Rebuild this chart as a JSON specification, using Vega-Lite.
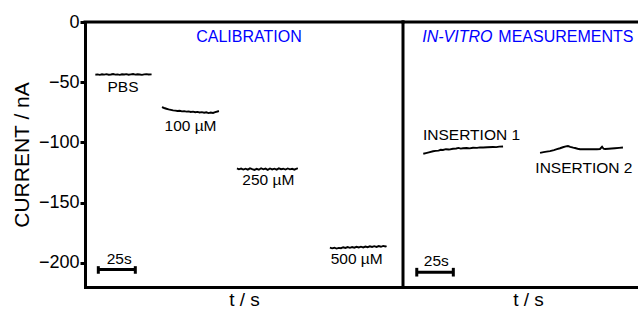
{
  "$schema": "https://vega.github.io/schema/vega-lite/v6.json",
  "padding": {"left": 11, "top": 13, "right": 0, "bottom": 0},
  "spacing": 0,
  "bounds": "flush",
  "config": {
    "view": {"stroke": null},
    "font": "Liberation Sans",
    "text": {"font": "Liberation Sans"},
    "axis": {"grid": false, "titleFontWeight": "normal", "titleColor": "black", "labelColor": "black", "domainColor": "black", "tickColor": "black"}
  },
  "datasets": {
    "traces": [
      {"panel": "L", "seg": "PBS", "t": 7.0, "current": -43.8},
      {"panel": "L", "seg": "PBS", "t": 8.5, "current": -43.5},
      {"panel": "L", "seg": "PBS", "t": 10.0, "current": -43.9},
      {"panel": "L", "seg": "PBS", "t": 11.5, "current": -43.4},
      {"panel": "L", "seg": "PBS", "t": 13.0, "current": -43.7},
      {"panel": "L", "seg": "PBS", "t": 14.5, "current": -43.3},
      {"panel": "L", "seg": "PBS", "t": 16.0, "current": -43.8},
      {"panel": "L", "seg": "PBS", "t": 17.5, "current": -43.6},
      {"panel": "L", "seg": "PBS", "t": 19.0, "current": -43.2},
      {"panel": "L", "seg": "PBS", "t": 20.5, "current": -43.7},
      {"panel": "L", "seg": "PBS", "t": 22.0, "current": -43.5},
      {"panel": "L", "seg": "PBS", "t": 23.5, "current": -43.9},
      {"panel": "L", "seg": "PBS", "t": 25.0, "current": -43.4},
      {"panel": "L", "seg": "PBS", "t": 26.5, "current": -43.6},
      {"panel": "L", "seg": "PBS", "t": 28.0, "current": -43.3},
      {"panel": "L", "seg": "PBS", "t": 29.5, "current": -43.8},
      {"panel": "L", "seg": "PBS", "t": 31.0, "current": -43.5},
      {"panel": "L", "seg": "PBS", "t": 32.5, "current": -43.2},
      {"panel": "L", "seg": "PBS", "t": 34.0, "current": -43.7},
      {"panel": "L", "seg": "PBS", "t": 35.5, "current": -43.4},
      {"panel": "L", "seg": "PBS", "t": 37.0, "current": -43.6},
      {"panel": "L", "seg": "PBS", "t": 38.5, "current": -43.9},
      {"panel": "L", "seg": "PBS", "t": 40.0, "current": -43.5},
      {"panel": "L", "seg": "PBS", "t": 41.5, "current": -43.3},
      {"panel": "L", "seg": "PBS", "t": 43.0, "current": -43.6},
      {"panel": "L", "seg": "PBS", "t": 45.0, "current": -43.5},
      {"panel": "L", "seg": "100", "t": 52.0, "current": -70.7},
      {"panel": "L", "seg": "100", "t": 53.5, "current": -71.4},
      {"panel": "L", "seg": "100", "t": 55.0, "current": -72.0},
      {"panel": "L", "seg": "100", "t": 56.5, "current": -72.6},
      {"panel": "L", "seg": "100", "t": 58.0, "current": -73.0},
      {"panel": "L", "seg": "100", "t": 59.5, "current": -73.4},
      {"panel": "L", "seg": "100", "t": 61.0, "current": -73.6},
      {"panel": "L", "seg": "100", "t": 62.5, "current": -73.9},
      {"panel": "L", "seg": "100", "t": 64.0, "current": -73.7},
      {"panel": "L", "seg": "100", "t": 65.5, "current": -74.2},
      {"panel": "L", "seg": "100", "t": 67.0, "current": -74.0},
      {"panel": "L", "seg": "100", "t": 68.5, "current": -74.4},
      {"panel": "L", "seg": "100", "t": 70.0, "current": -74.2},
      {"panel": "L", "seg": "100", "t": 71.5, "current": -74.7},
      {"panel": "L", "seg": "100", "t": 73.0, "current": -74.4},
      {"panel": "L", "seg": "100", "t": 74.5, "current": -74.9},
      {"panel": "L", "seg": "100", "t": 76.0, "current": -74.6},
      {"panel": "L", "seg": "100", "t": 77.5, "current": -75.1},
      {"panel": "L", "seg": "100", "t": 79.0, "current": -74.8},
      {"panel": "L", "seg": "100", "t": 80.5, "current": -75.3},
      {"panel": "L", "seg": "100", "t": 82.0, "current": -75.0},
      {"panel": "L", "seg": "100", "t": 83.5, "current": -75.6},
      {"panel": "L", "seg": "100", "t": 85.0, "current": -75.2},
      {"panel": "L", "seg": "100", "t": 86.5, "current": -75.5},
      {"panel": "L", "seg": "100", "t": 88.0, "current": -74.8},
      {"panel": "L", "seg": "100", "t": 89.5, "current": -74.3},
      {"panel": "L", "seg": "100", "t": 90.5, "current": -73.9},
      {"panel": "L", "seg": "250", "t": 102.7, "current": -121.6},
      {"panel": "L", "seg": "250", "t": 104.0, "current": -122.3},
      {"panel": "L", "seg": "250", "t": 105.5, "current": -121.7},
      {"panel": "L", "seg": "250", "t": 107.0, "current": -122.5},
      {"panel": "L", "seg": "250", "t": 108.5, "current": -121.8},
      {"panel": "L", "seg": "250", "t": 110.0, "current": -122.6},
      {"panel": "L", "seg": "250", "t": 111.5, "current": -121.5},
      {"panel": "L", "seg": "250", "t": 113.0, "current": -122.2},
      {"panel": "L", "seg": "250", "t": 114.5, "current": -122.8},
      {"panel": "L", "seg": "250", "t": 116.0, "current": -121.9},
      {"panel": "L", "seg": "250", "t": 117.5, "current": -122.6},
      {"panel": "L", "seg": "250", "t": 119.0, "current": -121.4},
      {"panel": "L", "seg": "250", "t": 120.5, "current": -122.3},
      {"panel": "L", "seg": "250", "t": 122.0, "current": -121.7},
      {"panel": "L", "seg": "250", "t": 123.5, "current": -122.7},
      {"panel": "L", "seg": "250", "t": 125.0, "current": -121.6},
      {"panel": "L", "seg": "250", "t": 126.5, "current": -122.4},
      {"panel": "L", "seg": "250", "t": 128.0, "current": -121.8},
      {"panel": "L", "seg": "250", "t": 129.5, "current": -122.6},
      {"panel": "L", "seg": "250", "t": 131.0, "current": -121.5},
      {"panel": "L", "seg": "250", "t": 132.5, "current": -122.2},
      {"panel": "L", "seg": "250", "t": 134.0, "current": -121.8},
      {"panel": "L", "seg": "250", "t": 135.5, "current": -122.5},
      {"panel": "L", "seg": "250", "t": 137.0, "current": -121.6},
      {"panel": "L", "seg": "250", "t": 138.5, "current": -122.3},
      {"panel": "L", "seg": "250", "t": 140.0, "current": -121.9},
      {"panel": "L", "seg": "250", "t": 141.5, "current": -122.6},
      {"panel": "L", "seg": "250", "t": 143.0, "current": -121.7},
      {"panel": "L", "seg": "250", "t": 143.9, "current": -121.5},
      {"panel": "L", "seg": "500", "t": 165.5, "current": -187.3},
      {"panel": "L", "seg": "500", "t": 167.0, "current": -187.9},
      {"panel": "L", "seg": "500", "t": 168.5, "current": -187.4},
      {"panel": "L", "seg": "500", "t": 170.0, "current": -188.1},
      {"panel": "L", "seg": "500", "t": 171.5, "current": -187.5},
      {"panel": "L", "seg": "500", "t": 173.0, "current": -187.8},
      {"panel": "L", "seg": "500", "t": 174.5, "current": -187.0},
      {"panel": "L", "seg": "500", "t": 176.0, "current": -187.6},
      {"panel": "L", "seg": "500", "t": 177.5, "current": -186.9},
      {"panel": "L", "seg": "500", "t": 179.0, "current": -187.5},
      {"panel": "L", "seg": "500", "t": 180.5, "current": -186.8},
      {"panel": "L", "seg": "500", "t": 182.0, "current": -187.4},
      {"panel": "L", "seg": "500", "t": 183.5, "current": -186.6},
      {"panel": "L", "seg": "500", "t": 185.0, "current": -187.2},
      {"panel": "L", "seg": "500", "t": 186.5, "current": -186.5},
      {"panel": "L", "seg": "500", "t": 188.0, "current": -187.1},
      {"panel": "L", "seg": "500", "t": 189.5, "current": -186.4},
      {"panel": "L", "seg": "500", "t": 191.0, "current": -186.9},
      {"panel": "L", "seg": "500", "t": 192.5, "current": -186.2},
      {"panel": "L", "seg": "500", "t": 194.0, "current": -186.8},
      {"panel": "L", "seg": "500", "t": 195.5, "current": -186.1},
      {"panel": "L", "seg": "500", "t": 197.0, "current": -186.7},
      {"panel": "L", "seg": "500", "t": 198.5, "current": -186.0},
      {"panel": "L", "seg": "500", "t": 200.0, "current": -186.6},
      {"panel": "L", "seg": "500", "t": 201.5, "current": -185.9},
      {"panel": "L", "seg": "500", "t": 203.0, "current": -186.4},
      {"panel": "L", "seg": "500", "t": 203.8, "current": -186.1},
      {"panel": "R", "seg": "ins1", "t": 13.7, "current": -109.4},
      {"panel": "R", "seg": "ins1", "t": 15.5, "current": -108.8},
      {"panel": "R", "seg": "ins1", "t": 17.5, "current": -108.2},
      {"panel": "R", "seg": "ins1", "t": 20.3, "current": -107.3},
      {"panel": "R", "seg": "ins1", "t": 22.0, "current": -107.0},
      {"panel": "R", "seg": "ins1", "t": 24.0, "current": -106.8},
      {"panel": "R", "seg": "ins1", "t": 25.5, "current": -106.1},
      {"panel": "R", "seg": "ins1", "t": 27.0, "current": -106.2},
      {"panel": "R", "seg": "ins1", "t": 29.0, "current": -105.6},
      {"panel": "R", "seg": "ins1", "t": 31.0, "current": -105.9},
      {"panel": "R", "seg": "ins1", "t": 33.8, "current": -105.2},
      {"panel": "R", "seg": "ins1", "t": 36.0, "current": -105.0},
      {"panel": "R", "seg": "ins1", "t": 37.5, "current": -104.5},
      {"panel": "R", "seg": "ins1", "t": 39.0, "current": -105.1},
      {"panel": "R", "seg": "ins1", "t": 40.5, "current": -104.8},
      {"panel": "R", "seg": "ins1", "t": 43.0, "current": -104.6},
      {"panel": "R", "seg": "ins1", "t": 45.0, "current": -104.9},
      {"panel": "R", "seg": "ins1", "t": 47.3, "current": -104.4},
      {"panel": "R", "seg": "ins1", "t": 50.0, "current": -104.5},
      {"panel": "R", "seg": "ins1", "t": 52.0, "current": -104.1},
      {"panel": "R", "seg": "ins1", "t": 54.1, "current": -104.2},
      {"panel": "R", "seg": "ins1", "t": 57.0, "current": -104.0},
      {"panel": "R", "seg": "ins1", "t": 60.8, "current": -103.8},
      {"panel": "R", "seg": "ins1", "t": 63.0, "current": -103.9},
      {"panel": "R", "seg": "ins1", "t": 65.0, "current": -103.5},
      {"panel": "R", "seg": "ins1", "t": 67.6, "current": -103.4},
      {"panel": "R", "seg": "ins2", "t": 92.6, "current": -108.6},
      {"panel": "R", "seg": "ins2", "t": 95.0, "current": -108.0},
      {"panel": "R", "seg": "ins2", "t": 97.0, "current": -107.6},
      {"panel": "R", "seg": "ins2", "t": 99.3, "current": -107.2},
      {"panel": "R", "seg": "ins2", "t": 102.0, "current": -106.4},
      {"panel": "R", "seg": "ins2", "t": 104.0, "current": -105.6},
      {"panel": "R", "seg": "ins2", "t": 106.1, "current": -104.8},
      {"panel": "R", "seg": "ins2", "t": 108.0, "current": -104.0},
      {"panel": "R", "seg": "ins2", "t": 110.0, "current": -103.3},
      {"panel": "R", "seg": "ins2", "t": 111.5, "current": -103.0},
      {"panel": "R", "seg": "ins2", "t": 113.0, "current": -103.6},
      {"panel": "R", "seg": "ins2", "t": 115.0, "current": -104.3},
      {"panel": "R", "seg": "ins2", "t": 116.2, "current": -104.6},
      {"panel": "R", "seg": "ins2", "t": 118.0, "current": -105.2},
      {"panel": "R", "seg": "ins2", "t": 119.6, "current": -105.6},
      {"panel": "R", "seg": "ins2", "t": 122.0, "current": -105.5},
      {"panel": "R", "seg": "ins2", "t": 124.0, "current": -105.7},
      {"panel": "R", "seg": "ins2", "t": 126.4, "current": -105.6},
      {"panel": "R", "seg": "ins2", "t": 128.5, "current": -105.5},
      {"panel": "R", "seg": "ins2", "t": 131.0, "current": -105.6},
      {"panel": "R", "seg": "ins2", "t": 133.1, "current": -105.4},
      {"panel": "R", "seg": "ins2", "t": 134.5, "current": -103.6},
      {"panel": "R", "seg": "ins2", "t": 135.5, "current": -105.2},
      {"panel": "R", "seg": "ins2", "t": 136.5, "current": -105.4},
      {"panel": "R", "seg": "ins2", "t": 139.0, "current": -105.2},
      {"panel": "R", "seg": "ins2", "t": 141.0, "current": -105.0},
      {"panel": "R", "seg": "ins2", "t": 143.2, "current": -104.8},
      {"panel": "R", "seg": "ins2", "t": 146.0, "current": -104.5},
      {"panel": "R", "seg": "ins2", "t": 148.6, "current": -104.2}
    ],
    "labels": [
      {"panel": "L", "t": 25.7, "current": -58.5, "text": "PBS"},
      {"panel": "L", "t": 71.3, "current": -90.1, "text": "100 µM"},
      {"panel": "L", "t": 123.9, "current": -135.2, "text": "250 µM"},
      {"panel": "L", "t": 183.6, "current": -200.7, "text": "500 µM"},
      {"panel": "L", "t": 23.1, "current": -201.3, "text": "25s"},
      {"panel": "R", "t": 46.3, "current": -97.6, "text": "INSERTION 1"},
      {"panel": "R", "t": 122.2, "current": -125.5, "text": "INSERTION 2"},
      {"panel": "R", "t": 22.5, "current": -202.2, "text": "25s"}
    ],
    "headings": [
      {"panel": "L", "t": 110.8, "current": -16.8, "text": "CALIBRATION", "style": "normal"},
      {"panel": "R", "t": 13.0, "current": -16.8, "text": "IN-VITRO", "style": "italic"},
      {"panel": "R", "t": 64.4, "current": -16.8, "text": "MEASUREMENTS", "style": "normal"}
    ],
    "bars": [
      {"panel": "L", "t": 9.0, "t2": 34.0, "current": -205.5, "lo": -202.7, "hi": -209.0},
      {"panel": "R", "t": 9.3, "t2": 34.0, "current": -207.7, "lo": -204.1, "hi": -211.3}
    ],
    "frame": [
      {"panel": "L", "top": 0, "divider": 214.9},
      {"panel": "R", "top": 0, "divider": 0}
    ]
  },
  "hconcat": [
    {
      "width": 318,
      "height": 265,
      "layer": [
        {
          "data": {"name": "traces"},
          "transform": [{"filter": "datum.panel === 'L'"}],
          "mark": {"type": "line", "color": "black", "strokeWidth": 1.9},
          "encoding": {
            "x": {"field": "t", "type": "quantitative", "scale": {"domain": [0, 214.9], "nice": false, "zero": false},
              "axis": {"labels": false, "ticks": false, "domainWidth": 3, "domainCap": "square", "title": "t / s", "titleFontSize": 19, "titlePadding": 3}},
            "y": {"field": "current", "type": "quantitative", "scale": {"domain": [-220, 0], "nice": false},
              "axis": {"values": [0, -50, -100, -150, -200], "tickSize": 5, "tickWidth": 3, "domainWidth": 3, "domainCap": "square", "labelFontSize": 18, "labelPadding": 1, "title": "CURRENT / nA", "titleFontSize": 21, "titlePadding": 6}},
            "detail": {"field": "seg"}
          }
        },
        {
          "data": {"name": "frame"},
          "transform": [{"filter": "datum.panel === 'L'"}],
          "mark": {"type": "rule", "color": "black", "strokeWidth": 3, "strokeCap": "square"},
          "encoding": {"y": {"field": "top", "type": "quantitative"}}
        },
        {
          "data": {"name": "frame"},
          "transform": [{"filter": "datum.panel === 'L'"}],
          "mark": {"type": "rule", "color": "black", "strokeWidth": 3, "strokeCap": "square"},
          "encoding": {"x": {"field": "divider", "type": "quantitative"}}
        },
        {
          "data": {"name": "bars"},
          "transform": [{"filter": "datum.panel === 'L'"}],
          "mark": {"type": "rule", "color": "black", "strokeWidth": 3},
          "encoding": {"x": {"field": "t", "type": "quantitative"}, "x2": {"field": "t2"}, "y": {"field": "current", "type": "quantitative"}}
        },
        {
          "data": {"name": "bars"},
          "transform": [{"filter": "datum.panel === 'L'"}],
          "mark": {"type": "rule", "color": "black", "strokeWidth": 3},
          "encoding": {"x": {"field": "t", "type": "quantitative"}, "y": {"field": "lo", "type": "quantitative"}, "y2": {"field": "hi"}}
        },
        {
          "data": {"name": "bars"},
          "transform": [{"filter": "datum.panel === 'L'"}],
          "mark": {"type": "rule", "color": "black", "strokeWidth": 3},
          "encoding": {"x": {"field": "t2", "type": "quantitative"}, "y": {"field": "lo", "type": "quantitative"}, "y2": {"field": "hi"}}
        },
        {
          "data": {"name": "labels"},
          "transform": [{"filter": "datum.panel === 'L'"}],
          "mark": {"type": "text", "color": "black", "fontSize": 15.5, "align": "center", "baseline": "alphabetic", "font": "Liberation Sans"},
          "encoding": {"x": {"field": "t", "type": "quantitative"}, "y": {"field": "current", "type": "quantitative"}, "text": {"field": "text"}}
        },
        {
          "data": {"name": "headings"},
          "transform": [{"filter": "datum.panel === 'L'"}],
          "mark": {"type": "text", "color": "#0000ff", "fontSize": 16, "align": "center", "baseline": "alphabetic", "font": "Liberation Sans"},
          "encoding": {"x": {"field": "t", "type": "quantitative"}, "y": {"field": "current", "type": "quantitative"}, "text": {"field": "text"}}
        }
      ]
    },
    {
      "width": 234,
      "height": 265,
      "layer": [
        {
          "data": {"name": "traces"},
          "transform": [{"filter": "datum.panel === 'R'"}],
          "mark": {"type": "line", "color": "black", "strokeWidth": 1.9},
          "encoding": {
            "x": {"field": "t", "type": "quantitative", "scale": {"domain": [0, 158.1], "nice": false, "zero": false},
              "axis": {"labels": false, "ticks": false, "domainWidth": 3, "domainCap": "square", "title": "t / s", "titleFontSize": 19, "titlePadding": 3, "titleX": 125}},
            "y": {"field": "current", "type": "quantitative", "scale": {"domain": [-220, 0], "nice": false}, "axis": null},
            "detail": {"field": "seg"}
          }
        },
        {
          "data": {"name": "frame"},
          "transform": [{"filter": "datum.panel === 'R'"}],
          "mark": {"type": "rule", "color": "black", "strokeWidth": 3, "strokeCap": "square"},
          "encoding": {"y": {"field": "top", "type": "quantitative"}}
        },
        {
          "data": {"name": "bars"},
          "transform": [{"filter": "datum.panel === 'R'"}],
          "mark": {"type": "rule", "color": "black", "strokeWidth": 3},
          "encoding": {"x": {"field": "t", "type": "quantitative"}, "x2": {"field": "t2"}, "y": {"field": "current", "type": "quantitative"}}
        },
        {
          "data": {"name": "bars"},
          "transform": [{"filter": "datum.panel === 'R'"}],
          "mark": {"type": "rule", "color": "black", "strokeWidth": 3},
          "encoding": {"x": {"field": "t", "type": "quantitative"}, "y": {"field": "lo", "type": "quantitative"}, "y2": {"field": "hi"}}
        },
        {
          "data": {"name": "bars"},
          "transform": [{"filter": "datum.panel === 'R'"}],
          "mark": {"type": "rule", "color": "black", "strokeWidth": 3},
          "encoding": {"x": {"field": "t2", "type": "quantitative"}, "y": {"field": "lo", "type": "quantitative"}, "y2": {"field": "hi"}}
        },
        {
          "data": {"name": "labels"},
          "transform": [{"filter": "datum.panel === 'R'"}],
          "mark": {"type": "text", "color": "black", "fontSize": 15.5, "align": "center", "baseline": "alphabetic", "font": "Liberation Sans"},
          "encoding": {"x": {"field": "t", "type": "quantitative"}, "y": {"field": "current", "type": "quantitative"}, "text": {"field": "text"}}
        },
        {
          "data": {"name": "headings"},
          "transform": [{"filter": "datum.panel === 'R' && datum.style === 'italic'"}],
          "mark": {"type": "text", "color": "#0000ff", "fontSize": 16, "align": "left", "baseline": "alphabetic", "fontStyle": "italic", "font": "Liberation Sans"},
          "encoding": {"x": {"field": "t", "type": "quantitative"}, "y": {"field": "current", "type": "quantitative"}, "text": {"field": "text"}}
        },
        {
          "data": {"name": "headings"},
          "transform": [{"filter": "datum.panel === 'R' && datum.style === 'normal'"}],
          "mark": {"type": "text", "color": "#0000ff", "fontSize": 16, "align": "left", "baseline": "alphabetic", "font": "Liberation Sans"},
          "encoding": {"x": {"field": "t", "type": "quantitative"}, "y": {"field": "current", "type": "quantitative"}, "text": {"field": "text"}}
        }
      ]
    }
  ]
}
